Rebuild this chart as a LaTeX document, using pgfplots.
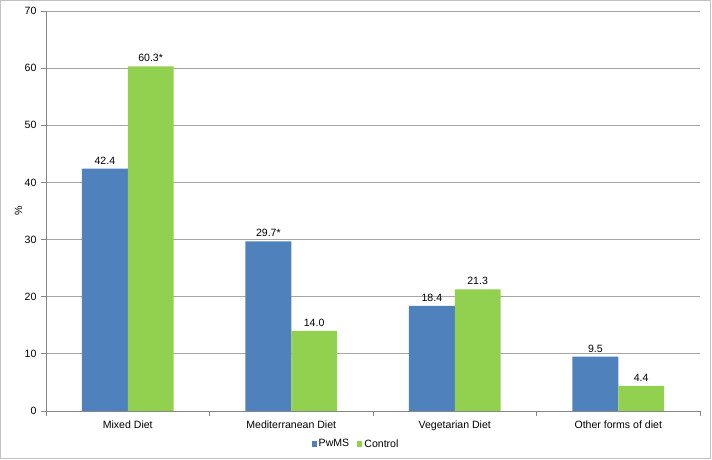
\documentclass[border=0pt]{standalone}
\usepackage{pgfplots}
\pgfplotsset{compat=1.18}
\usepackage{fontspec}
\setmainfont{Liberation Sans}
\definecolor{pwms}{HTML}{4F81BD}
\definecolor{ctrl}{HTML}{92D050}
\definecolor{gridc}{HTML}{A6A6A6}
\definecolor{axc}{HTML}{868686}
\begin{document}
\begin{tikzpicture}[x=1bp,y=1bp]
\path[use as bounding box] (0,0) rectangle (712,460);
\draw[gridc!70,line width=1.2bp] (0.6,1.6) rectangle (710.4,459.4);
\begin{axis}[
  at={(46bp,49bp)}, anchor=south west,
  scale only axis, width=654bp, height=400bp,
  ybar=0pt, bar width=0.28,
  xmin=-0.5, xmax=3.5, ymin=0, ymax=70,
  ytick={0,10,...,70},
  xtick={0,1,2,3},
  xticklabels={Mixed Diet,Mediterranean Diet,Vegetarian Diet,Other forms of diet},
  minor xtick={-0.5,0.5,1.5,2.5,3.5},
  major x tick style={draw=none},
  tick align=outside,
  major tick length=5bp, minor tick length=5bp,
  every tick/.style={axc, line width=0.8bp},
  ymajorgrids, grid style={gridc, line width=0.8bp},
  axis line style={axc, line width=0.8bp},
  axis x line*=bottom, axis y line*=left,
  tick label style={font=\fontsize{10.6}{12}\selectfont, black},
  /pgf/number format/assume math mode=true,
  xticklabel style={yshift=-1.5bp},
  yticklabel style={xshift=-1bp},
  ylabel={\%}, ylabel style={font=\fontsize{10.6}{12}\selectfont, at={(axis description cs:-0.042,0.5)}, anchor=center},
  nodes near coords, point meta=explicit symbolic,
  every node near coord/.append style={font=\fontsize{10.6}{12}\selectfont, black, yshift=1bp},
  legend style={at={(0.474,-0.0825)}, anchor=center, draw=none, fill=none,
    font=\fontsize{10.6}{12}\selectfont, legend columns=2,
    /tikz/every even column/.append style={column sep=6bp}},
  legend image code/.code={\fill[#1] (0bp,-2.6bp) rectangle (5.2bp,2.6bp);},
]
\addplot[fill=pwms, draw=none] coordinates {(0,42.4)[42.4] (1,29.7)[29.7*] (2,18.4)[18.4] (3,9.5)[9.5]};
\addplot[fill=ctrl, draw=none] coordinates {(0,60.3)[60.3*] (1,14.0)[14.0] (2,21.3)[21.3] (3,4.4)[4.4]};
\legend{PwMS,Control}
\end{axis}
\end{tikzpicture}
\end{document}
